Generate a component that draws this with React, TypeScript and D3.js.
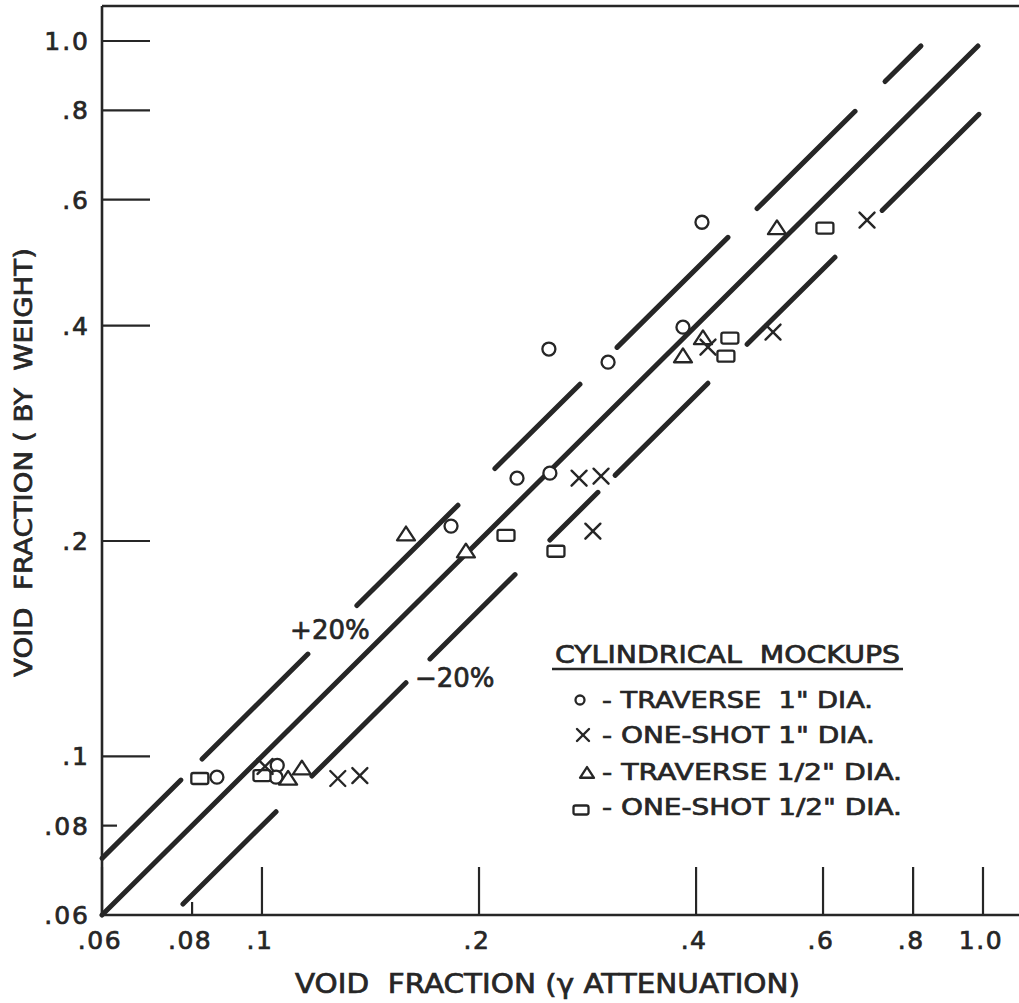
import React from "react";
import * as d3 from "d3";

// ---- data ----
const tickValues = [0.06, 0.08, 0.1, 0.2, 0.4, 0.6, 0.8, 1.0];
const tickLabels = [".06", ".08", ".1", ".2", ".4", ".6", ".8", "1.0"];
const shortTicks = [0.08];

// [x (gamma attenuation), y (by weight)]
const traverse1: [number, number][] = [
  [0.0866, 0.0935], [0.105, 0.0971], [0.1046, 0.0935], [0.1829, 0.2098],
  [0.2258, 0.2448], [0.2508, 0.2488], [0.25, 0.371], [0.302, 0.3556],
  [0.3836, 0.398], [0.4076, 0.558],
];
const oneShot1: [number, number][] = [
  [0.101, 0.0968], [0.1274, 0.0931], [0.1367, 0.094], [0.2753, 0.2448],
  [0.2953, 0.2464], [0.2877, 0.2064], [0.4155, 0.3733], [0.5114, 0.3918],
  [0.6905, 0.5619],
];
const traverseHalf: [number, number][] = [
  [0.1087, 0.0931], [0.1136, 0.0962], [0.1584, 0.2044], [0.1918, 0.1935],
  [0.3836, 0.3626], [0.4089, 0.3843], [0.5179, 0.5476],
];
const oneShotHalf: [number, number][] = [
  [0.082, 0.0931], [0.1, 0.094], [0.218, 0.2037], [0.2557, 0.1935],
  [0.44, 0.3626], [0.4456, 0.3843], [0.6036, 0.5476],
];

// reference lines y = k * x, drawn as x-extents
const centerRatio = 1.0;
const centerExtent: [number, number][] = [[0.06, 0.984]];
const upperRatio = 1.2;
const upperDashes: [number, number][] = [
  [0.06, 0.0772], [0.0826, 0.1158], [0.1354, 0.187], [0.2104, 0.2761],
  [0.3108, 0.4429], [0.486, 0.6646], [0.7313, 0.8203],
];
const lowerRatio = 0.8;
const lowerDashes: [number, number][] = [
  [0.0777, 0.1046], [0.1173, 0.1584], [0.171, 0.2244], [0.2508, 0.2924],
  [0.3088, 0.4155], [0.4708, 0.6233], [0.7245, 0.9873],
];

const legendTitle = "CYLINDRICAL  MOCKUPS";
const legendLabels = [
  '- TRAVERSE  1" DIA.',
  '- ONE-SHOT 1" DIA.',
  '- TRAVERSE 1/2" DIA.',
  '- ONE-SHOT 1/2" DIA.',
];

const W = 1019;
const H = 1003;
const INK = "#262626";
const FONT = "'DejaVu Sans', 'Liberation Sans', sans-serif";
const TS = 0.7; // text stroke to mimic lettering-guide weight

const x = d3.scaleLog().domain([0.06, 1.0]).range([102, 983]);
const y = d3.scaleLog().domain([0.06, 1.0]).range([915, 41]);

const line = d3
  .line<[number, number]>()
  .x((d) => x(d[0]))
  .y((d) => y(d[1]));

function segPath(ext: [number, number], k: number) {
  return line([
    [ext[0], ext[0] * k],
    [ext[1], ext[1] * k],
  ]) as string;
}

function Circle({ cx, cy, r = 6.5 }: { cx: number; cy: number; r?: number }) {
  return <circle cx={cx} cy={cy} r={r} fill="#fff" stroke={INK} strokeWidth={2.3} />;
}
function Cross({ cx, cy, s = 7.5 }: { cx: number; cy: number; s?: number }) {
  return (
    <g stroke={INK} strokeWidth={2.4} strokeLinecap="round">
      <line x1={cx - s} y1={cy - s} x2={cx + s} y2={cy + s} />
      <line x1={cx - s} y1={cy + s} x2={cx + s} y2={cy - s} />
    </g>
  );
}
function Tri({ cx, cy, s = 9 }: { cx: number; cy: number; s?: number }) {
  const h = s * 0.85;
  return (
    <polygon
      points={`${cx},${cy - h} ${cx + s},${cy + h * 0.8} ${cx - s},${cy + h * 0.8}`}
      fill="#fff"
      stroke={INK}
      strokeWidth={2.3}
      strokeLinejoin="round"
    />
  );
}
function Box({ cx, cy, w = 17, h = 11 }: { cx: number; cy: number; w?: number; h?: number }) {
  return (
    <rect x={cx - w / 2} y={cy - h / 2} width={w} height={h} rx={2} fill="#fff" stroke={INK} strokeWidth={2.3} />
  );
}

export default function App() {
  const left = x(0.06);
  const bottom = y(0.06);
  const top = 6;
  const right = W;

  return (
    <svg
      width={W}
      height={H}
      viewBox={`0 0 ${W} ${H}`}
      style={{ position: "absolute", left: 0, top: 0, background: "#fff" }}
      fontFamily={FONT}
    >
      <rect x={0} y={0} width={W} height={H} fill="#fff" />

      {/* reference lines */}
      <g stroke={INK} strokeWidth={5} strokeLinecap="round" fill="none">
        {centerExtent.map((e, i) => (
          <path key={"c" + i} d={segPath(e, centerRatio)} />
        ))}
        {upperDashes.map((e, i) => (
          <path key={"u" + i} d={segPath(e, upperRatio)} />
        ))}
        {lowerDashes.map((e, i) => (
          <path key={"l" + i} d={segPath(e, lowerRatio)} />
        ))}
      </g>

      {/* frame */}
      <g stroke={INK} strokeWidth={2.6} fill="none">
        <line x1={left} y1={top} x2={right} y2={top} />
        <line x1={left} y1={top} x2={left} y2={bottom} />
        <line x1={left} y1={bottom} x2={right} y2={bottom} />
      </g>

      {/* ticks */}
      <g stroke={INK} strokeWidth={2.2}>
        {tickValues.map((v) => {
          const len = shortTicks.includes(v) ? 13 : 48;
          return <line key={"xt" + v} x1={x(v)} y1={bottom} x2={x(v)} y2={bottom - len} />;
        })}
        {tickValues.map((v) => {
          const len = shortTicks.includes(v) ? 15 : 48;
          return <line key={"yt" + v} x1={left} y1={y(v)} x2={left + len} y2={y(v)} />;
        })}
      </g>

      <g fill={INK} stroke={INK} strokeWidth={TS}>
        {/* tick labels */}
        <g fontSize={25}>
          {tickValues.map((v, i) => (
            <text key={"xl" + v} x={x(v) - 2} y={949} textAnchor="middle" letterSpacing={1.5}>
              {tickLabels[i]}
            </text>
          ))}
          {tickValues.map((v, i) => (
            <text key={"yl" + v} x={90} y={y(v) + 9} textAnchor="end" letterSpacing={2}>
              {tickLabels[i]}
            </text>
          ))}
        </g>

        {/* axis titles */}
        <text
          x={295}
          y={993}
          fontSize={26}
          textLength={505}
          lengthAdjust="spacingAndGlyphs"
          style={{ whiteSpace: "pre" }}
        >
          {"VOID  FRACTION (γ ATTENUATION)"}
        </text>
        <text
          transform={`translate(32, 677) rotate(-90)`}
          x={0}
          y={0}
          fontSize={24}
          textLength={429}
          lengthAdjust="spacingAndGlyphs"
          style={{ whiteSpace: "pre" }}
        >
          {"VOID  FRACTION ( BY  WEIGHT)"}
        </text>

        {/* line annotations */}
        <text x={x(0.1094)} y={y(0.1457)} fontSize={26}>
          +20%
        </text>
        <text x={x(0.163)} y={y(0.1249)} fontSize={26}>
          −20%
        </text>
      </g>

      {/* data markers */}
      {traverse1.map((d, i) => (
        <Circle key={"t1" + i} cx={x(d[0])} cy={y(d[1])} />
      ))}
      {traverseHalf.map((d, i) => (
        <Tri key={"th" + i} cx={x(d[0])} cy={y(d[1])} />
      ))}
      {oneShotHalf.map((d, i) => (
        <Box key={"oh" + i} cx={x(d[0])} cy={y(d[1])} />
      ))}
      {oneShot1.map((d, i) => (
        <Cross key={"o1" + i} cx={x(d[0])} cy={y(d[1])} />
      ))}

      {/* legend */}
      <g>
        <text
          x={555}
          y={663}
          fontSize={24}
          fill={INK}
          stroke={INK}
          strokeWidth={TS}
          textLength={345}
          lengthAdjust="spacingAndGlyphs"
          style={{ whiteSpace: "pre" }}
        >
          {legendTitle}
        </text>
        <line x1={552} y1={669} x2={903} y2={669} stroke={INK} strokeWidth={2.6} />
        <Circle cx={580} cy={700} r={4.5} />
        <Cross cx={583} cy={735} s={6} />
        <Tri cx={587} cy={773} s={7} />
        <Box cx={581} cy={810} w={15} h={9} />
        {legendLabels.map((t, i) => {
          const ys = [708, 743, 780, 815];
          const lens = [271, 273, 300, 300];
          return (
            <text
              key={"lg" + i}
              x={602}
              y={ys[i]}
              fontSize={23}
              fill={INK}
              stroke={INK}
              strokeWidth={TS}
              textLength={lens[i]}
              lengthAdjust="spacingAndGlyphs"
              style={{ whiteSpace: "pre" }}
            >
              {t}
            </text>
          );
        })}
      </g>
    </svg>
  );
}
